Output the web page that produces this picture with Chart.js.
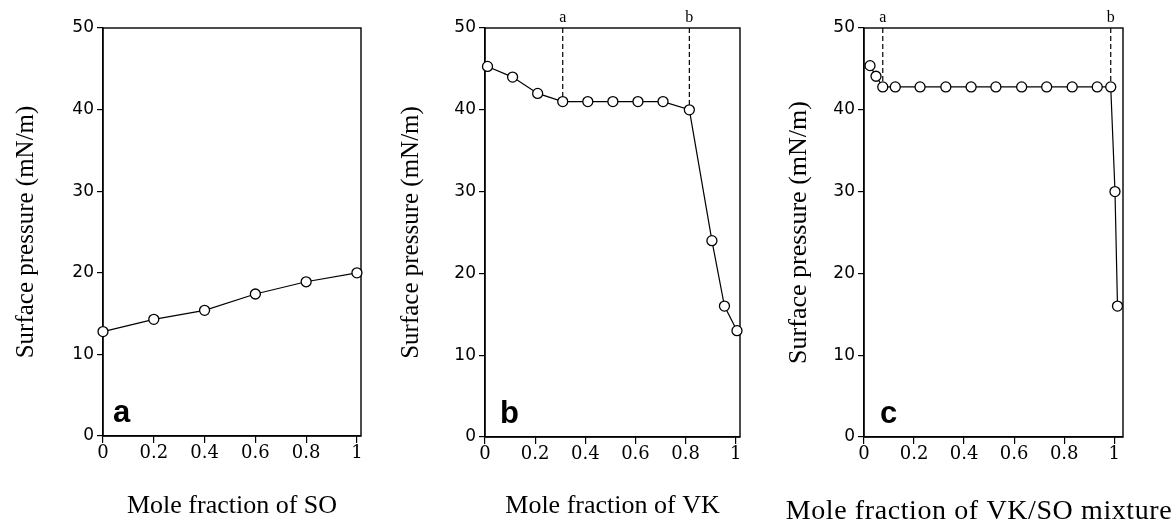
<!DOCTYPE html>
<html><head><meta charset="utf-8">
<script src="https://cdn.jsdelivr.net/npm/chart.js@4"></script>
<style>
html,body{margin:0;padding:0;background:#fff;}
#wrap{position:relative;width:1175px;height:532px;background:#fff;}
canvas{position:absolute;left:0;top:0;}
</style></head><body>
<div id="wrap">
<canvas id="ca" width="1175" height="532"></canvas>
<canvas id="cb" width="1175" height="532"></canvas>
<canvas id="cc" width="1175" height="532"></canvas>
</div>
<script>
// ---- data ----
const soFraction  = [0, 0.2, 0.4, 0.6, 0.8, 1.0];
const soPressure  = [12.8, 14.3, 15.4, 17.4, 18.9, 20.0];

const vkFraction  = [0.01, 0.11, 0.21, 0.31, 0.41, 0.51, 0.61, 0.71, 0.815, 0.905, 0.955, 1.005];
const vkPressure  = [45.3, 44.0, 42.0, 41.0, 41.0, 41.0, 41.0, 41.0, 40.0, 24.0, 16.0, 13.0];

const mixFraction = [0.024, 0.048, 0.075, 0.125, 0.224, 0.327, 0.428, 0.527, 0.63, 0.73, 0.832, 0.932, 0.986, 1.003, 1.013];
const mixPressure = [45.4, 44.1, 42.8, 42.8, 42.8, 42.8, 42.8, 42.8, 42.8, 42.8, 42.8, 42.8, 42.8, 30.0, 16.0];

const vkMarkX  = [0.31, 0.815];
const vkMarkY  = [41, 40];
const mixMarkX = [0.075, 0.986];
const mixMarkY = [42.8, 42.8];
const markLabels = ['a', 'b'];

const yTicks = [0, 10, 20, 30, 40, 50];
const xTicks = [0, 0.2, 0.4, 0.6, 0.8, 1];
const panelLetters = ['a', 'b', 'c'];
const xTitles = ['Mole fraction of SO', 'Mole fraction of VK', 'Mole fraction of VK/SO mixture'];
const yTitle = 'Surface pressure (mN/m)';

// ---- helpers ----
const W = 1175, H = 532;
function pts(xs, ys) { return xs.map((x, i) => ({x: x, y: ys[i]})); }

function makePanel(canvasId, p) {
  const datasets = [{
    data: pts(p.xs, p.ys),
    borderColor: '#000', borderWidth: 1.2,
    pointRadius: 5, pointHoverRadius: 5,
    pointBackgroundColor: '#fff', pointBorderColor: '#000', pointBorderWidth: 1.3,
    tension: 0, clip: false
  }];
  (p.markX || []).forEach((mx, i) => {
    datasets.push({
      data: [{x: mx, y: yTicks[yTicks.length - 1]}, {x: mx, y: p.markY[i]}],
      borderColor: '#000', borderWidth: 1.2, borderDash: [5, 3],
      pointRadius: 0, clip: false
    });
  });

  const decor = {
    id: 'decor' + canvasId,
    beforeDatasetsDraw(chart) {
      const a = chart.chartArea, ctx = chart.ctx;
      ctx.save();
      ctx.strokeStyle = '#000'; ctx.lineWidth = 1.4;
      ctx.strokeRect(a.left, a.top, a.right - a.left, a.bottom - a.top);
      ctx.restore();
    },
    afterDraw(chart) {
      const a = chart.chartArea, ctx = chart.ctx, xs = chart.scales.x;
      ctx.save();
      ctx.fillStyle = '#000';
      ctx.font = 'bold 31px "Liberation Sans"';
      ctx.textAlign = 'left'; ctx.textBaseline = 'alphabetic';
      ctx.fillText(p.letter, a.left + p.letterDx, a.bottom - 14);
      ctx.font = '16px "Liberation Serif"';
      ctx.textAlign = 'center';
      (p.markX || []).forEach((mx, i) => {
        ctx.fillText(markLabels[i], xs.getPixelForValue(mx), a.top - 6);
      });
      if (p.customTitle) {
        ctx.font = p.customTitle.font;
        if ('letterSpacing' in ctx) ctx.letterSpacing = p.customTitle.spacing;
        ctx.textAlign = 'center';
        ctx.fillText(p.xTitle, p.customTitle.x, p.customTitle.y);
      }
      ctx.restore();
    }
  };

  new Chart(document.getElementById(canvasId), {
    type: 'line',
    data: {datasets},
    plugins: [decor],
    options: {
      responsive: false, animation: false,
      events: [],
      layout: {padding: {left: p.origin, right: W - p.right, top: p.top, bottom: 0}},
      plugins: {legend: {display: false}, tooltip: {enabled: false}},
      scales: {
        x: {
          type: 'linear', min: 0, max: p.xmax,
          afterFit: s => { s.height = H - p.bottom; },
          afterBuildTicks: s => { s.ticks = xTicks.map(v => ({value: v})); },
          ticks: {
            color: '#000', padding: 0, maxRotation: 0, autoSkip: false,
            font: {family: 'DejaVu Serif', size: 18},
            callback: v => String(+(+v).toFixed(1))
          },
          grid: {drawOnChartArea: false, drawTicks: true, tickLength: 7, color: '#000', lineWidth: 1.2},
          border: {display: true, color: '#000', width: 1.4},
          title: {
            display: !p.customTitle, text: p.xTitle, color: '#000',
            font: {family: 'Liberation Serif', size: 26}, padding: {top: 0, bottom: 10}
          }
        },
        y: {
          type: 'linear', min: 0, max: 50,
          afterFit: s => { s.width = p.left - p.origin; },
          afterBuildTicks: s => { s.ticks = yTicks.map(v => ({value: v})); },
          ticks: {color: '#000', padding: 3, font: {family: 'DejaVu Sans', size: 17}},
          grid: {drawOnChartArea: false, drawTicks: true, tickLength: 6, color: '#000', lineWidth: 1.2},
          border: {display: true, color: '#000', width: 1.4},
          title: {
            display: true, text: yTitle, color: '#000',
            font: {family: 'Liberation Serif', size: p.ySize}, padding: {top: p.yPad, bottom: 0}
          }
        }
      }
    }
  });
}

makePanel('ca', {
  xs: soFraction, ys: soPressure, letter: panelLetters[0], letterDx: 10,
  origin: 0, left: 103, right: 361, top: 28, bottom: 436, xmax: 1.016,
  xTitle: xTitles[0], ySize: 25, yPad: 11
});
makePanel('cb', {
  xs: vkFraction, ys: vkPressure, letter: panelLetters[1], letterDx: 15,
  markX: vkMarkX, markY: vkMarkY,
  origin: 390, left: 485, right: 740, top: 28, bottom: 437, xmax: 1.017,
  xTitle: xTitles[1], ySize: 25, yPad: 6
});
makePanel('cc', {
  xs: mixFraction, ys: mixPressure, letter: panelLetters[2], letterDx: 16,
  markX: mixMarkX, markY: mixMarkY,
  origin: 780, left: 864, right: 1123, top: 28, bottom: 437, xmax: 1.035,
  xTitle: xTitles[2], ySize: 26, yPad: 4,
  customTitle: {font: '28px "Liberation Serif"', spacing: '0.6px', x: 979, y: 519}
});
</script>
</body></html>
